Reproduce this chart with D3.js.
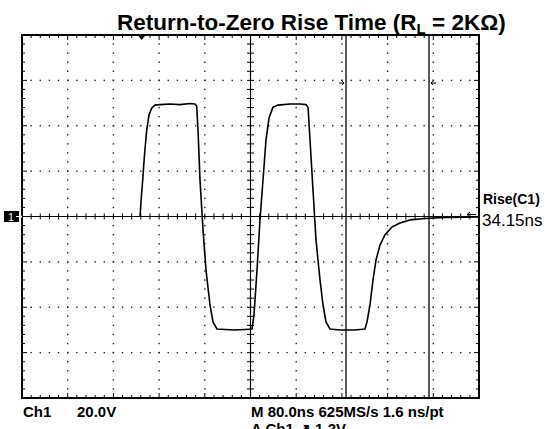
<!DOCTYPE html>
<html>
<head>
<meta charset="utf-8">
<script src="https://cdn.jsdelivr.net/npm/d3@7"></script>
<style>
  body { margin: 0; background: #fff; }
  text { font-family: "Liberation Sans", Arial, sans-serif; fill: #000; }
  .narrow { font-family: "Liberation Sans Narrow", "Arial Narrow", "Liberation Sans", sans-serif; font-weight: bold; }
</style>
</head>
<body>
<script>
// scope settings: 80 ns/div, 20 V/div, 10 x 8 divisions
const timeDomain = [-400, 400];
const voltDomain = [-80, 80];

// trace (ns, V)
const traceTime = [-193.4, -190.8, -188.7, -185.6, -181.7, -177.7, -172.9, -167.2, -158.4, -140.9,
  -123.4, -105.9, -97.2, -94.2, -91.9, -88.4, -83.1, -77.9, -70.9, -65.6,
  -58.6, -44.6, -27.1, -9.6, 2.6, 6.1, 11.4, 16.6, 21.9, 27.1,
  32.4, 39.4, 48.1, 69.1, 86.6, 97.2, 100.7, 104.2, 109.4, 114.7,
  121.7, 126.9, 132.2, 139.2, 156.7, 182.9, 200.4, 203.9, 209.2, 214.4,
  219.7, 226.7, 235.4, 247.7, 261.7, 279.2, 305.5, 340.5, 400];
const traceVolt = [0, 9.5, 16.1, 27.1, 38.1, 44.7, 47.8, 49.1, 49.3, 49.6,
  49.3, 49.8, 49.6, 48.7, 38.1, 16.1, -5.9, -23.6, -39.0, -46.5,
  -49.6, -49.8, -50.0, -49.8, -49.6, -43.4, -23.6, -1.5, 16.1, 33.7,
  43.4, 48.2, 49.1, 49.6, 49.6, 49.3, 48.2, 33.7, 11.7, -10.4,
  -28.0, -39.0, -46.5, -49.6, -50.0, -50.0, -49.6, -46.5, -39.0, -28.0,
  -19.2, -12.6, -8.1, -4.6, -2.9, -1.5, -0.9, -0.4, -0.2];

const cursorTimes = [167.2, 312.5];
const cursorArrowVolt = 58.8;
const triggerTime = -190.5;

const titleMain = "Return-to-Zero Rise Time (R";
const titleSub = "L";
const titleEnd = " = 2KΩ)";
const measLabel = "Rise(C1)";
const measValue = "34.15ns";
const chLabel = "Ch1";
const chScale = "20.0V";
const timeLine = "M 80.0ns 625MS/s  1.6 ns/pt";
const trigLine = "A  Ch1  \u2197 1.2V";

const W = 547, H = 429;
const frame = {left: 22, right: 479, top: 35, bottom: 398};

const x = d3.scaleLinear().domain(timeDomain).range([frame.left, frame.right]);
const y = d3.scaleLinear().domain(voltDomain).range([frame.bottom, frame.top]);

const svg = d3.select("body").append("svg")
    .attr("width", W)
    .attr("height", H);

const majorT = d3.range(timeDomain[0], timeDomain[1] + 1, 80);
const minorT = d3.range(timeDomain[0], timeDomain[1] + 0.1, 16);
const majorV = d3.range(voltDomain[0], voltDomain[1] + 1, 20);
const minorV = d3.range(voltDomain[0], voltDomain[1] + 0.1, 4);

// dotted graticule
const dots = svg.append("g").attr("fill", "#222");
majorT.slice(1, -1).filter(t => t !== 0).forEach(t => {
  minorV.slice(1, -1).forEach(v => {
    dots.append("rect").attr("x", x(t) - 0.7).attr("y", y(v) - 0.7).attr("width", 1.4).attr("height", 1.4);
  });
});
majorV.slice(1, -1).filter(v => v !== 0).forEach(v => {
  minorT.slice(1, -1).forEach(t => {
    dots.append("rect").attr("x", x(t) - 0.7).attr("y", y(v) - 0.7).attr("width", 1.4).attr("height", 1.4);
  });
});

// frame ticks
const ticks = svg.append("g").attr("stroke", "#000").attr("stroke-width", 1);
minorT.forEach(t => {
  const len = (Math.abs(t % 80) < 0.01) ? 5 : 3;
  ticks.append("line").attr("x1", x(t)).attr("x2", x(t)).attr("y1", frame.top).attr("y2", frame.top + len);
  ticks.append("line").attr("x1", x(t)).attr("x2", x(t)).attr("y1", frame.bottom).attr("y2", frame.bottom - len);
  // centre axis ticks
  ticks.append("line").attr("x1", x(t)).attr("x2", x(t)).attr("y1", y(0) - 3).attr("y2", y(0) + 3);
});
minorV.forEach(v => {
  const len = (Math.abs(v % 20) < 0.01) ? 5 : 3;
  ticks.append("line").attr("y1", y(v)).attr("y2", y(v)).attr("x1", frame.left).attr("x2", frame.left + len);
  ticks.append("line").attr("y1", y(v)).attr("y2", y(v)).attr("x1", frame.right).attr("x2", frame.right - len);
  ticks.append("line").attr("y1", y(v)).attr("y2", y(v)).attr("x1", x(0) - 3.5).attr("x2", x(0) + 3.5);
});

// centre crosshair
svg.append("line").attr("x1", frame.left).attr("x2", frame.right).attr("y1", y(0)).attr("y2", y(0))
    .attr("stroke", "#000").attr("stroke-width", 1.2);
svg.append("line").attr("x1", x(0)).attr("x2", x(0)).attr("y1", frame.top).attr("y2", frame.bottom)
    .attr("stroke", "#000").attr("stroke-width", 1.2);

// cursors
cursorTimes.forEach(t => {
  svg.append("line").attr("x1", x(t)).attr("x2", x(t)).attr("y1", frame.top).attr("y2", frame.bottom)
      .attr("stroke", "#000").attr("stroke-width", 1.3);
});
// little arrows at the cursors
const ay = y(cursorArrowVolt);
const arrowPath = (xt, dir) => `M${xt - dir * 6},${ay} L${xt - dir * 1},${ay} M${xt - dir * 3},${ay - 2} L${xt - dir * 1},${ay} L${xt - dir * 3},${ay + 2}`;
svg.append("path").attr("d", arrowPath(x(cursorTimes[0]) - 1, 1)).attr("stroke", "#000").attr("fill", "none");
svg.append("path").attr("d", arrowPath(x(cursorTimes[1]) + 1, -1)).attr("stroke", "#000").attr("fill", "none");

// trace
const line = d3.line()
    .x((d, i) => x(traceTime[i]))
    .y((d, i) => y(traceVolt[i]));
svg.append("path")
    .datum(traceTime)
    .attr("fill", "none")
    .attr("stroke", "#000")
    .attr("stroke-width", 1.6)
    .attr("stroke-linejoin", "round")
    .attr("d", line);

// frame
svg.append("rect")
    .attr("x", frame.left).attr("y", frame.top)
    .attr("width", frame.right - frame.left).attr("height", frame.bottom - frame.top)
    .attr("fill", "none").attr("stroke", "#000").attr("stroke-width", 2);

// trigger marker
const tx = x(triggerTime);
svg.append("path").attr("d", `M${tx - 4},${frame.top} L${tx + 4},${frame.top} L${tx},${frame.top + 5} Z`).attr("fill", "#000");

// measurement arrow on the right
const ry = y(0) - 2;
svg.append("path").attr("d", `M${frame.right - 12},${ry} L${frame.right - 3},${ry} M${frame.right - 9},${ry - 2.5} L${frame.right - 12},${ry} L${frame.right - 9},${ry + 2.5}`)
    .attr("stroke", "#000").attr("fill", "none");

// channel marker
svg.append("rect").attr("x", 4).attr("y", y(0) - 5.5).attr("width", 15).attr("height", 11).attr("fill", "#000");
svg.append("text").attr("x", 11).attr("y", y(0) + 4).attr("text-anchor", "middle")
    .style("fill", "#fff").attr("font-size", "11px").text("1");
svg.append("path").attr("d", `M16,${y(0)} L22,${y(0)} M19.5,${y(0) - 2} L22,${y(0)} L19.5,${y(0) + 2}`)
    .attr("stroke", "#fff").attr("fill", "none");

// title
const title = svg.append("text")
    .attr("x", 117).attr("y", 30)
    .attr("font-size", "22.5px").attr("font-weight", "bold");
title.append("tspan").text(titleMain);
title.append("tspan").attr("font-size", "15px").attr("dy", 4).text(titleSub);
title.append("tspan").attr("dy", -4).text(titleEnd);

// measurement readout
svg.append("text").attr("class", "narrow").attr("x", 483).attr("y", 204).attr("font-size", "14px").text(measLabel);
svg.append("text").attr("x", 482).attr("y", 225.5).attr("font-size", "17px").text(measValue);

// status lines
svg.append("text").attr("class", "narrow").attr("x", 23).attr("y", 417).attr("font-size", "15px").text(chLabel);
svg.append("text").attr("class", "narrow").attr("x", 77).attr("y", 417).attr("font-size", "15px").text(chScale);
svg.append("text").attr("class", "narrow").attr("x", 251).attr("y", 417).attr("font-size", "15px").text(timeLine);
svg.append("text").attr("class", "narrow").attr("x", 251).attr("y", 434).attr("font-size", "15px").text(trigLine);
</script>
</body>
</html>
